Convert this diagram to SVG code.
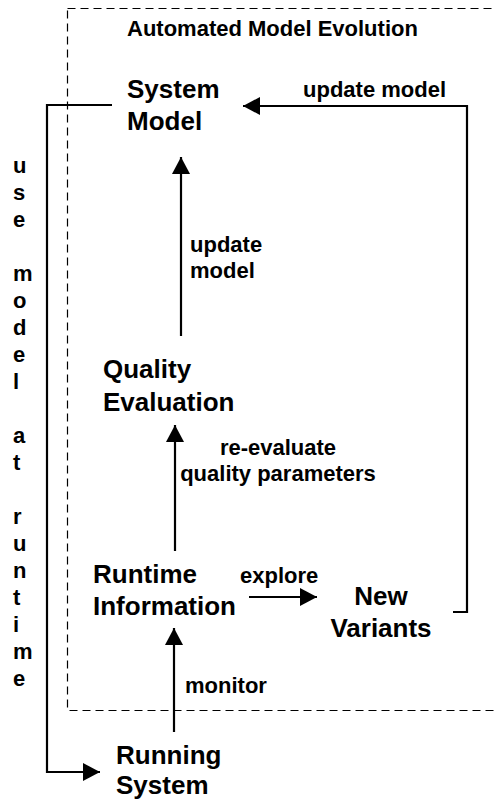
<svg xmlns="http://www.w3.org/2000/svg" width="495" height="800" viewBox="0 0 495 800">
  <style>
    text { font-family: "Liberation Sans", Arial, sans-serif; font-weight: bold; fill: #000; }
    .node { font-size: 26px; }
    .label { font-size: 22px; }
    .edge { fill: none; stroke: #000; stroke-width: 2.2; }
    .frame { fill: none; stroke: #000; stroke-width: 1.2; stroke-dasharray: 8 5; }
  </style>
  <defs>
    <marker id="arrow" markerUnits="userSpaceOnUse" markerWidth="18" markerHeight="18" viewBox="0 0 18 18" refX="17" refY="9" orient="auto">
      <path d="M0,0 L17,9 L0,18 Z" fill="#000"/>
    </marker>
  </defs>

  <rect fill="#fff" x="0" y="0" width="495" height="800"/>

  <!-- boundary of the automated loop -->
  <g id="frame">
    <rect class="frame" x="67.5" y="8.5" width="460" height="702"/>
    <text class="label" x="127" y="36">Automated Model Evolution</text>
  </g>

  <g id="system-model">
    <text class="node" x="127" y="98">System</text>
    <text class="node" x="127" y="130">Model</text>
  </g>

  <g id="quality-evaluation">
    <text class="node" x="103" y="378">Quality</text>
    <text class="node" x="103" y="411">Evaluation</text>
  </g>

  <g id="runtime-information">
    <text class="node" x="93" y="583">Runtime</text>
    <text class="node" x="93" y="615">Information</text>
  </g>

  <g id="new-variants">
    <text class="node" x="381" y="605" text-anchor="middle">New</text>
    <text class="node" x="381" y="637" text-anchor="middle">Variants</text>
  </g>

  <g id="running-system">
    <text class="node" x="116" y="764">Running</text>
    <text class="node" x="116" y="794">System</text>
  </g>

  <g id="connectors">
    <!-- model is used by the running system -->
    <path class="edge" d="M112,105 H47 V772 H100" marker-end="url(#arrow)"/>
    <!-- new variants feed back into the model -->
    <path class="edge" d="M453,612 H467 V106 H243" marker-end="url(#arrow)"/>
    <!-- quality evaluation updates the model -->
    <path class="edge" d="M181,336 V157" marker-end="url(#arrow)"/>
    <!-- runtime information re-evaluates quality -->
    <path class="edge" d="M175,551 V425" marker-end="url(#arrow)"/>
    <!-- runtime information explores variants -->
    <path class="edge" d="M249,597 H317" marker-end="url(#arrow)"/>
    <!-- running system is monitored -->
    <path class="edge" d="M174,732 V628" marker-end="url(#arrow)"/>

    <text class="label" x="303" y="97">update model</text>
    <text class="label" x="190" y="252">update</text>
    <text class="label" x="190" y="278">model</text>
    <text class="label" x="278" y="455" text-anchor="middle">re-evaluate</text>
    <text class="label" x="278" y="481" text-anchor="middle">quality parameters</text>
    <text class="label" x="240" y="583">explore</text>
    <text class="label" x="185" y="693">monitor</text>

    <text class="label" x="13" y="173">u</text>
    <text class="label" x="13" y="200">s</text>
    <text class="label" x="13" y="227">e</text>
    <text class="label" x="13" y="281">m</text>
    <text class="label" x="13" y="308">o</text>
    <text class="label" x="13" y="335">d</text>
    <text class="label" x="13" y="362">e</text>
    <text class="label" x="13" y="389">l</text>
    <text class="label" x="13" y="443">a</text>
    <text class="label" x="13" y="470">t</text>
    <text class="label" x="13" y="524">r</text>
    <text class="label" x="13" y="551">u</text>
    <text class="label" x="13" y="578">n</text>
    <text class="label" x="13" y="605">t</text>
    <text class="label" x="13" y="632">i</text>
    <text class="label" x="13" y="659">m</text>
    <text class="label" x="13" y="686">e</text>
  </g>
</svg>
